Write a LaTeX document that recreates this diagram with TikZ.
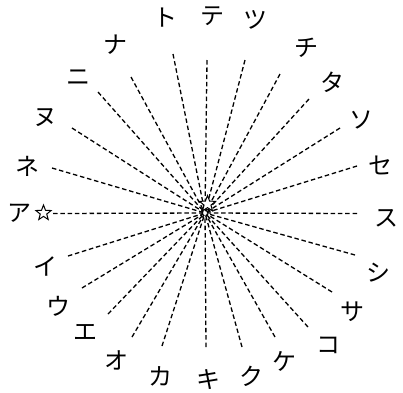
\documentclass[tikz,border=0pt]{standalone}
\usepackage{fontspec}
\setmainfont{Noto Sans CJK JP}
\usetikzlibrary{calc}
\begin{document}
\begin{tikzpicture}[x=1pt,y=-1pt,
  lbl/.style={font=\fontsize{24}{24}\selectfont,inner sep=0pt},
  ray/.style={line width=1.3pt,dash pattern=on 4.5pt off 2.8pt,shorten >=2pt},
  starpath/.style={line width=1pt,line join=miter}]
\useasboundingbox (0,0) rectangle (403,392);
\coordinate (c) at (205,213);
% line ends
\coordinate (eA) at (53,213.5);
\coordinate (eI) at (68,256);
\coordinate (eU) at (82,288);
\coordinate (eE) at (108,314);
\coordinate (eO) at (132,337);
\coordinate (eKa) at (162,346);
\coordinate (eKi) at (206,347);
\coordinate (eKu) at (242,347);
\coordinate (eKe) at (275,337);
\coordinate (eKo) at (308,327);
\coordinate (eSa) at (332,292);
\coordinate (eShi) at (355,255);
\coordinate (eSu) at (357,213.5);
\coordinate (eSe) at (357,166);
\coordinate (eSo) at (340,128);
\coordinate (eTa) at (309,99);
\coordinate (eChi) at (280,74);
\coordinate (eTsu) at (245,60);
\coordinate (eTe) at (207,60);
\coordinate (eTo) at (173,54);
\coordinate (eNa) at (131,77);
\coordinate (eNi) at (98,92);
\coordinate (eNu) at (72,128);
\coordinate (eNe) at (52,168);
\foreach \e in {eA,eI,eU,eE,eO,eKa,eKi,eKu,eKe,eKo,eSa,eShi,eSu,eSe,eSo,eTa,eChi,eTsu,eTe,eTo,eNa,eNi,eNu,eNe}
  \draw[ray] (\e) -- (c);
% center star
\coordinate (s) at (207.5,204);
\draw[starpath,fill=white] ($(s)+(-90:8.5)$)
  \foreach \k in {0,...,4} { -- ($(s)+(-90+72*\k:8.5)$) -- ($(s)+(-54+72*\k:3.6)$) } -- cycle;
% labels
\node[lbl] (A) at (20,213) {ア};
\coordinate (As) at (43.5,213);
\draw[starpath] ($(As)+(-90:8)$)
  \foreach \k in {0,...,4} { -- ($(As)+(-90+72*\k:8)$) -- ($(As)+(-54+72*\k:3.4)$) } -- cycle;
\node[lbl] (I) at (45,266) {イ};
\node[lbl] (U) at (58,306) {ウ};
\node[lbl] (E) at (85,332) {エ};
\node[lbl] (O) at (116,360) {オ};
\node[lbl] (Ka) at (160,376) {カ};
\node[lbl] (Ki) at (208,380) {キ};
\node[lbl] (Ku) at (251,376) {ク};
\node[lbl] (Ke) at (284,361) {ケ};
\node[lbl] (Ko) at (328,345) {コ};
\node[lbl] (Sa) at (352,312) {サ};
\node[lbl] (Shi) at (378,273) {シ};
\node[lbl] (Su) at (386,218) {ス};
\node[lbl] (Se) at (380,165) {セ};
\node[lbl] (So) at (361,120) {ソ};
\node[lbl] (Ta) at (332,82) {タ};
\node[lbl] (Chi) at (306,48) {チ};
\node[lbl] (Tsu) at (255,20) {ツ};
\node[lbl] (Te) at (212,16) {テ};
\node[lbl] (To) at (165,18) {ト};
\node[lbl] (Na) at (115,45) {ナ};
\node[lbl] (Ni) at (78,78) {ニ};
\node[lbl] (Nu) at (45,118) {ヌ};
\node[lbl] (Ne) at (28,166) {ネ};
\end{tikzpicture}
\end{document}
